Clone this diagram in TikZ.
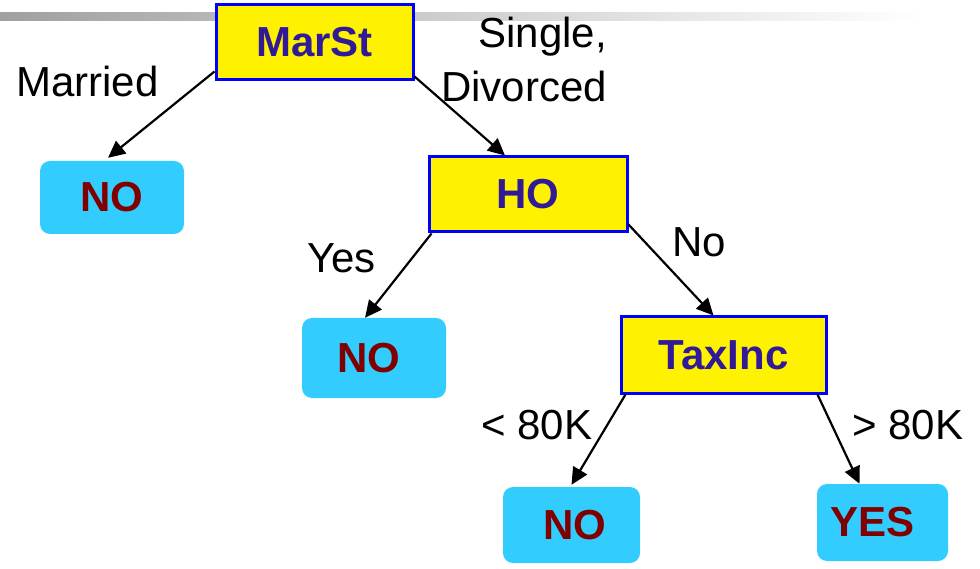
\documentclass[tikz,border=0pt]{standalone}
\usepackage{fontspec}
\setmainfont{Liberation Sans}
\usetikzlibrary{arrows.meta}
\definecolor{boxtext}{RGB}{48,26,152}
\definecolor{leaftext}{RGB}{128,0,0}
\definecolor{leaffill}{RGB}{51,204,255}
\definecolor{boxborder}{RGB}{0,0,255}
\definecolor{barleft}{RGB}{160,160,160}
\tikzset{
  testbox/.style={draw=boxborder, line width=3pt, fill=yellow, inner sep=0pt,
    text=boxtext, font=\fontsize{42}{50}\selectfont\bfseries},
  leafbox/.style={fill=leaffill, rounded corners=10pt, inner sep=0pt,
    text=leaftext, font=\fontsize{42}{50}\selectfont\bfseries},
  edgelabel/.style={inner sep=0pt, font=\fontsize{42}{50}\selectfont},
  conn/.style={line width=2.2pt, -{Triangle[length=17pt,width=16pt]}}
}
\begin{document}
\begin{tikzpicture}[x=1pt,y=-1pt]
\useasboundingbox (0,0) rectangle (980,569);
\shade[left color=barleft, right color=white] (0,13) rectangle (920,21);
% test nodes
\node[testbox, minimum width=197pt, minimum height=75pt] (marst) at (314.5,42.5) {MarSt};
\node[testbox, minimum width=198pt, minimum height=75pt] (ho) at (528,194.5) {HO};
\node[testbox, minimum width=205pt, minimum height=76pt] (tax) at (723.5,355) {TaxInc};
% leaves
\node[leafbox, minimum width=144pt, minimum height=73pt] (no1) at (112,197.5) {NO};
\node[leafbox, minimum width=144pt, minimum height=80pt] (no2) at (374,358) {\hspace*{-10pt}NO};
\node[leafbox, minimum width=137pt, minimum height=76pt] (no3) at (571.5,525) {\hspace*{6pt}NO};
\node[leafbox, minimum width=131pt, minimum height=77pt] (yes) at (882.5,522.5) {\hspace*{-20pt}YES};
% labels
\node[edgelabel, anchor=base west] (lmar) at (16,97) {Married};
\node[edgelabel, anchor=base east] (lsing) at (607,48) {Single,};
\node[edgelabel, anchor=base east] (ldiv) at (607,102) {Divorced};
\node[edgelabel, anchor=base west] (lyes) at (307,273) {Yes};
\node[edgelabel, anchor=base west] (lno) at (672,257) {No};
\node[edgelabel, anchor=base west] (llt) at (481,439) {<~80K};
\node[edgelabel, anchor=base west] (lgt) at (852,439) {>~80K};
% connectors
\draw[conn] ([yshift=10pt]marst.south west) -- ([xshift=-4pt,yshift=3pt]no1.north);
\draw[conn] ([yshift=5pt]marst.south east) -- ([xshift=-23pt]ho.north);
\draw[conn] ([xshift=4pt]ho.south west) -- ([xshift=-9pt]no2.north);
\draw[conn] ([yshift=9pt]ho.south east) -- ([xshift=-10pt]tax.north);
\draw[conn] ([xshift=6pt]tax.south west) -- ([yshift=2pt]no3.north);
\draw[conn] ([xshift=-10pt]tax.south east) -- ([xshift=-23pt]yes.north);
\end{tikzpicture}
\end{document}
